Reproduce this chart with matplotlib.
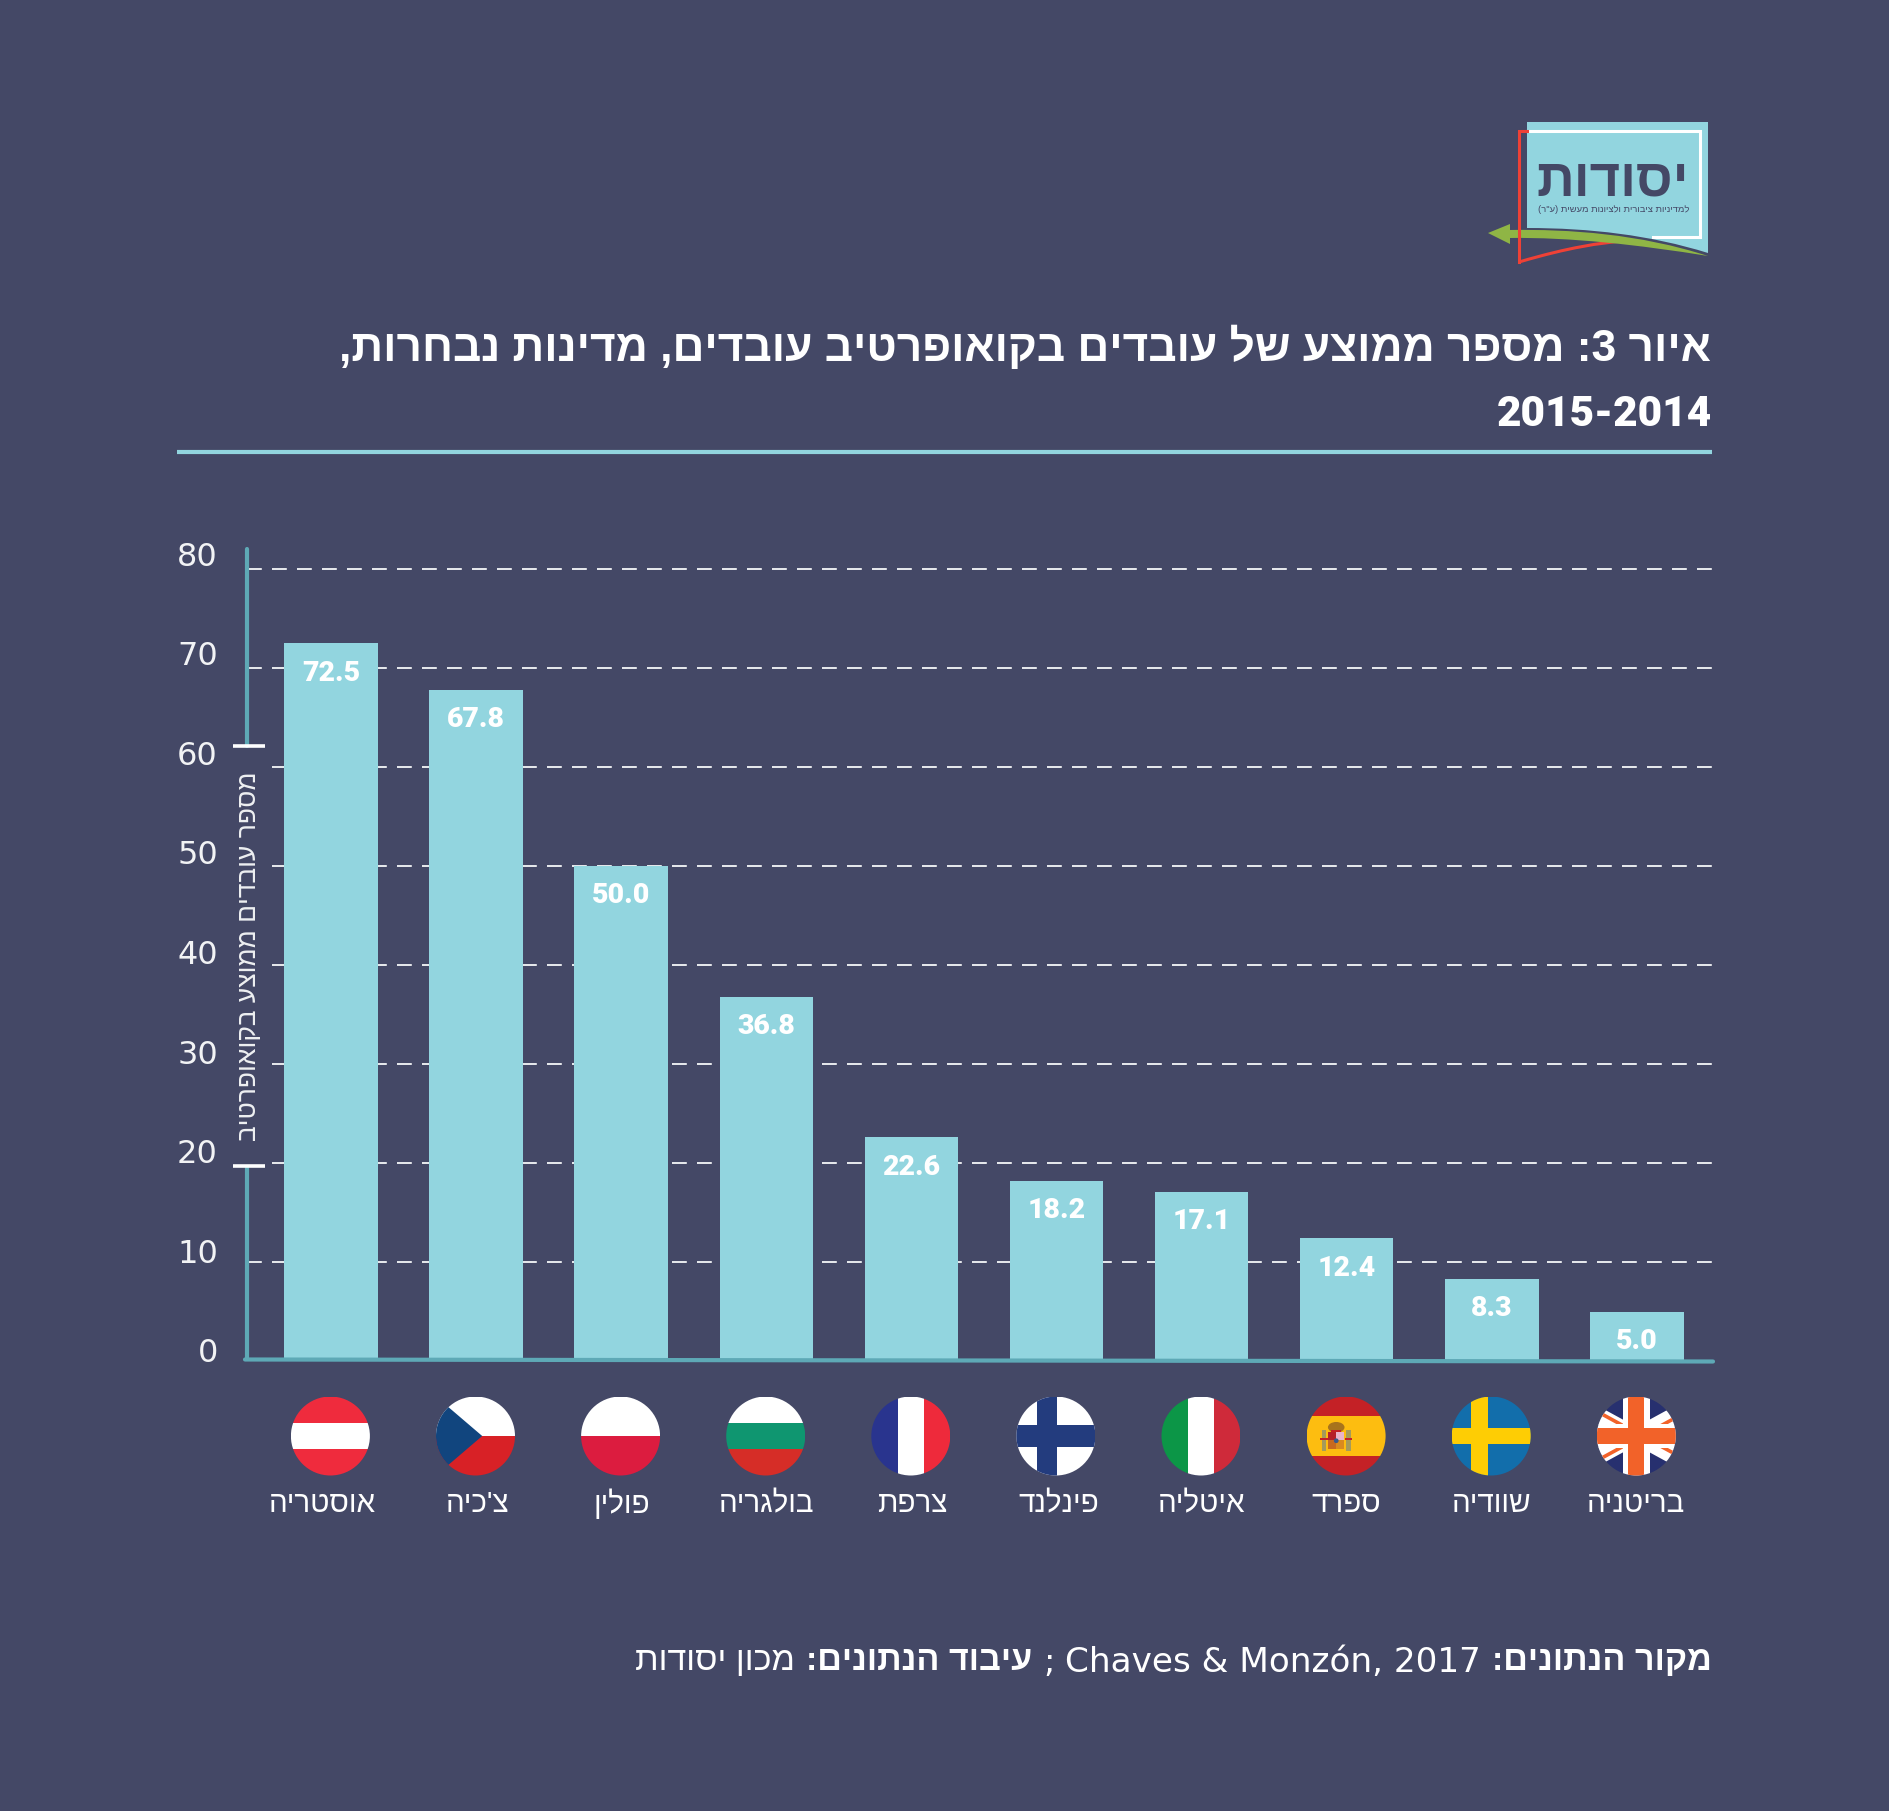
import re
import matplotlib
matplotlib.use('Agg')
import matplotlib.pyplot as plt
from matplotlib.patches import Rectangle, Circle, Ellipse, Polygon, PathPatch
from matplotlib.path import Path
from matplotlib.transforms import ScaledTranslation

W, H = 1890, 1811
BG = '#444866'
BAR = '#92d5df'
AXIS = '#5ea9b6'
GRID = '#e4e6ea'
HEB = ['Liberation Sans', 'DejaVu Sans']

countries = ['אוסטריה', "צ'כיה", 'פולין', 'בולגריה', 'צרפת',
             'פינלנד', 'איטליה', 'ספרד', 'שוודיה', 'בריטניה']
values = [72.5, 67.8, 50.0, 36.8, 22.6, 18.2, 17.1, 12.4, 8.3, 5.0]
flags = ['at', 'cz', 'pl', 'bg', 'fr', 'fi', 'it', 'es', 'se', 'gb']
yticks = [0, 10, 20, 30, 40, 50, 60, 70, 80]

title1 = 'איור 3: מספר ממוצע של עובדים בקואופרטיב עובדים, מדינות נבחרות,'
title2 = '2015-2014'
ylabel = 'מספר עובדים ממוצע בקואופרטיב'
logo1 = 'יסודות'
logo2 = 'למדיניות ציבורית ולציונות מעשית (ע"ר)'


def rtl(s):
    # matplotlib has no bidi: flip the string, keep the numbers readable
    s = s[::-1].translate(str.maketrans('()', ')('))
    return re.sub(r'\d[\d\-]*\d|\d', lambda m: m.group(0)[::-1], s)


fig = plt.figure(figsize=(W / 100, H / 100), dpi=100, facecolor=BG)
rend = fig.canvas.get_renderer()

# bars
x0, x1, ytop, ybot = 247, 1713, 549, 1361
PITCH = 145.1
ax = fig.add_axes([x0 / W, 1 - ybot / H, (x1 - x0) / W, (ybot - ytop) / H])
ax.patch.set_alpha(0)
xs = list(range(len(values)))
ax.set_xlim((x0 - 331) / PITCH, (x1 - 331) / PITCH)
ax.set_ylim(0, (ybot - ytop) / 9.9)
ax.bar(xs, values, width=0.644, color=BAR, zorder=3)
ax.set_yticks(yticks, [str(t) for t in yticks])
ax.set_xticks([])
for s in ax.spines.values():
    s.set_visible(False)
ax.tick_params(axis='y', length=0, pad=21, labelsize=23, labelcolor='#f2f3f5')
for t, lab in zip(yticks, ax.get_yticklabels()):
    up = (10.5 + t * 0.0625) / 100
    lab.set_transform(lab.get_transform() + ScaledTranslation(0, up, fig.dpi_scale_trans))
for t in yticks[1:]:
    start = -0.405 if 20 <= t < 70 else -0.578
    ax.plot([start, ax.get_xlim()[1]], [t, t], color=GRID, lw=1.44,
            dashes=(7.4, 5.1), zorder=1)
for x, v in zip(xs, values):
    ax.annotate(f'{v:.1f}', (x, v), xytext=(0, -21.5), textcoords='offset points',
                ha='center', va='center', color='white', fontsize=20.5,
                fontweight='black', family='Roboto', zorder=4)

# overlay in pixels for everything around the plot
ov = fig.add_axes([0, 0, 1, 1], zorder=5)
ov.set_xlim(0, W)
ov.set_ylim(H, 0)
ov.axis('off')

# axis lines, with the gap for the rotated label
ov.plot([247, 247], [549, 746], color=AXIS, lw=3, solid_capstyle='round')
ov.plot([247, 247], [1166, 1359], color=AXIS, lw=3, solid_capstyle='butt')
ov.plot([245, 1713], [1359.5, 1361.5], color=AXIS, lw=3, solid_capstyle='round')
for y in (746, 1165.5):
    ov.plot([233, 265], [y, y], color='white', lw=2.6, solid_capstyle='butt')
ov.text(249, 956, rtl(ylabel), rotation=90, ha='center', va='center',
        color='#eef0f2', fontsize=19, family=HEB)

# title
ov.text(1711, 348, rtl(title1), ha='right', va='center', color='white',
        fontsize=31.9, fontweight='bold', family=HEB)
ov.text(1712, 415, title2, ha='right', va='center', color='white',
        fontsize=30.5, fontweight='black', family='Roboto')
ov.plot([177, 1712], [452, 452], color=BAR, lw=3, solid_capstyle='butt')


# flags
def stripes_h(a, cols, edges):
    for c, lo, hi in zip(cols, edges[:-1], edges[1:]):
        a.add_patch(Rectangle((-1, lo), 2, hi - lo, color=c, lw=0))


def stripes_v(a, cols, edges):
    for c, lo, hi in zip(cols, edges[:-1], edges[1:]):
        a.add_patch(Rectangle((lo, -1), hi - lo, 2, color=c, lw=0))


def cross(a, bg, fg, vx, hy, z=1):
    a.add_patch(Rectangle((-1, -1), 2, 2, color=bg, lw=0, zorder=z))
    a.add_patch(Rectangle((vx[0], -1), vx[1] - vx[0], 2, color=fg, lw=0, zorder=z))
    a.add_patch(Rectangle((-1, hy[0]), 2, hy[1] - hy[0], color=fg, lw=0, zorder=z))


def draw_flag(a, code):
    if code == 'at':
        stripes_h(a, ['#ef2b3d', 'white', '#ef2b3d'], [-1, -1 / 3, 1 / 3, 1])
    elif code == 'cz':
        stripes_h(a, ['#d82126', 'white'], [-1, 0, 1])
        a.add_patch(Polygon([(-1, 1), (0.17, 0), (-1, -1)], color='#11457e', lw=0))
    elif code == 'pl':
        stripes_h(a, ['#dc1c3f', 'white'], [-1, 0, 1])
    elif code == 'bg':
        stripes_h(a, ['#d62d27', '#0f9670', 'white'], [-1, -1 / 3, 1 / 3, 1])
    elif code == 'fr':
        stripes_v(a, ['#29348e', 'white', '#ee2a3b'], [-1, -0.335, 0.335, 1])
    elif code == 'fi':
        cross(a, 'white', '#233c7e', (-0.49, 0.03), (-0.28, 0.28))
    elif code == 'it':
        stripes_v(a, ['#0c9647', 'white', '#cf2a3a'], [-1, -0.33, 0.33, 1])
    elif code == 'se':
        cross(a, '#126eab', '#fecd04', (-0.5, -0.09), (-0.21, 0.19))
    elif code == 'es':
        stripes_h(a, ['#c42126', '#fdbd10', '#c42126'], [-1, -0.5, 0.5, 1])
        # small coat of arms
        a.add_patch(Ellipse((-0.25, 0.22), 0.42, 0.27, color='#a8741c', lw=0))
        a.add_patch(Rectangle((-0.38, 0.1), 0.26, 0.06, color='#c42126', lw=0))
        a.add_patch(Rectangle((-0.45, -0.34), 0.4, 0.44, color='#d98a1f', lw=0))
        a.add_patch(Rectangle((-0.45, -0.1), 0.2, 0.2, color='#b5202a', lw=0))
        a.add_patch(Rectangle((-0.25, -0.1), 0.2, 0.2, color='#e9b4cb', lw=0))
        a.add_patch(Rectangle((-0.45, -0.34), 0.2, 0.24, color='#c8691f', lw=0))
        a.add_patch(Rectangle((-0.62, -0.38), 0.12, 0.52, color='#a59a5a', lw=0))
        a.add_patch(Rectangle((0.0, -0.38), 0.12, 0.52, color='#a59a5a', lw=0))
        a.add_patch(Rectangle((-0.66, -0.1), 0.2, 0.05, color='#c42126', lw=0))
        a.add_patch(Rectangle((-0.04, -0.1), 0.2, 0.05, color='#c42126', lw=0))
        a.add_patch(Circle((-0.25, -0.12), 0.06, color='#3a5a8c', lw=0))
    elif code == 'gb':
        a.add_patch(Rectangle((-1, -1), 2, 2, color='#27306f', lw=0))
        for sx in (1, -1):
            a.plot([-1.1, 1.1], [-0.6 * sx, 0.6 * sx], color='white', lw=11.5,
                   solid_capstyle='butt', zorder=2)
            a.plot([-1.1, 1.1], [-0.68 * sx, 0.52 * sx], color='#f26229', lw=2.6,
                   solid_capstyle='butt', zorder=2)
        cross(a, (0, 0, 0, 0), 'white', (-0.34, 0.34), (-0.31, 0.31), z=3)
        cross(a, (0, 0, 0, 0), '#f26229', (-0.2, 0.2), (-0.19, 0.19), z=4)
    clip = Circle((0, 0), 1, transform=a.transData)
    for art in a.patches + a.lines:
        art.set_clip_path(clip)


label_dx = [-8, 2, 1, 1, 1, 3, 1, 0, 0, 0]
r = 39.5
for x, code, name, dx in zip(xs, flags, countries, label_dx):
    cx = 330.4 + PITCH * x
    fa = fig.add_axes([(cx - r) / W, 1 - (1436 + r) / H, 2 * r / W, 2 * r / H], zorder=6)
    fa.set_xlim(-1, 1)
    fa.set_ylim(-1, 1)
    fa.axis('off')
    draw_flag(fa, code)
    ov.text(cx + dx, 1504, rtl(name), ha='center', va='center', color='white',
            fontsize=21.3, family=HEB)

# footer, runs placed from the right
runs = [(rtl('מקור הנתונים:'), 'bold', HEB, 24.6),
        ('Chaves & Monzón, 2017', 'normal', ['DejaVu Sans'], 24.7),
        (';', 'normal', ['DejaVu Sans'], 24.7),
        (rtl('עיבוד הנתונים:'), 'bold', HEB, 24.6),
        (rtl('מכון יסודות'), 'normal', HEB, 24.6)]
right = 1712
for s, w, fam, size in runs:
    t = ov.text(right, 1662, s, ha='right', va='center', color='white', fontsize=size,
                fontweight=w, family=fam)
    right -= t.get_window_extent(rend).width + 11

# logo
ov.add_patch(PathPatch(Path([(1527, 122), (1708, 122), (1708, 253), (1650, 235), (1590, 228), (1527, 228), (1527, 122)],
                            [Path.MOVETO, Path.LINETO, Path.LINETO, Path.CURVE4, Path.CURVE4, Path.CURVE4, Path.CLOSEPOLY]),
                       fc=BAR, ec='none'))
ov.plot([1527, 1700, 1700, 1653], [131, 131, 237, 237], color='white', lw=2.2, solid_joinstyle='miter')
ov.plot([1527, 1519, 1519], [131, 131, 262], color='#ef4136', lw=2.2, solid_joinstyle='miter')
verts = [(1519, 262), (1570, 247), (1600, 243), (1623, 241)]
ov.add_patch(PathPatch(Path(verts, [Path.MOVETO, Path.CURVE4, Path.CURVE4, Path.CURVE4]),
                       fc='none', ec='#ef4136', lw=2.2))
ov.add_patch(PathPatch(Path([(1509, 230), (1570, 229), (1640, 234), (1708, 256),
                             (1640, 245), (1570, 237), (1509, 238), (1509, 230)],
                            [Path.MOVETO, Path.CURVE4, Path.CURVE4, Path.CURVE4,
                             Path.CURVE4, Path.CURVE4, Path.CURVE4, Path.CLOSEPOLY]),
                       fc='#8fb545', ec='none'))
ov.add_patch(Polygon([(1488, 233), (1510, 224), (1510, 244)], color='#8fb545', lw=0))
for s, y, w, weight, size in [(logo1, 181, 153, 'bold', 40), (logo2, 209, 152, 'normal', 8)]:
    t = ov.text(1689, y, rtl(s), ha='right', va='center', color=BG, fontsize=size,
                fontweight=weight, family=HEB)
    t.set_fontsize(size * w / t.get_window_extent(rend).width)

fig.savefig('out.png', dpi=100, facecolor=BG)
